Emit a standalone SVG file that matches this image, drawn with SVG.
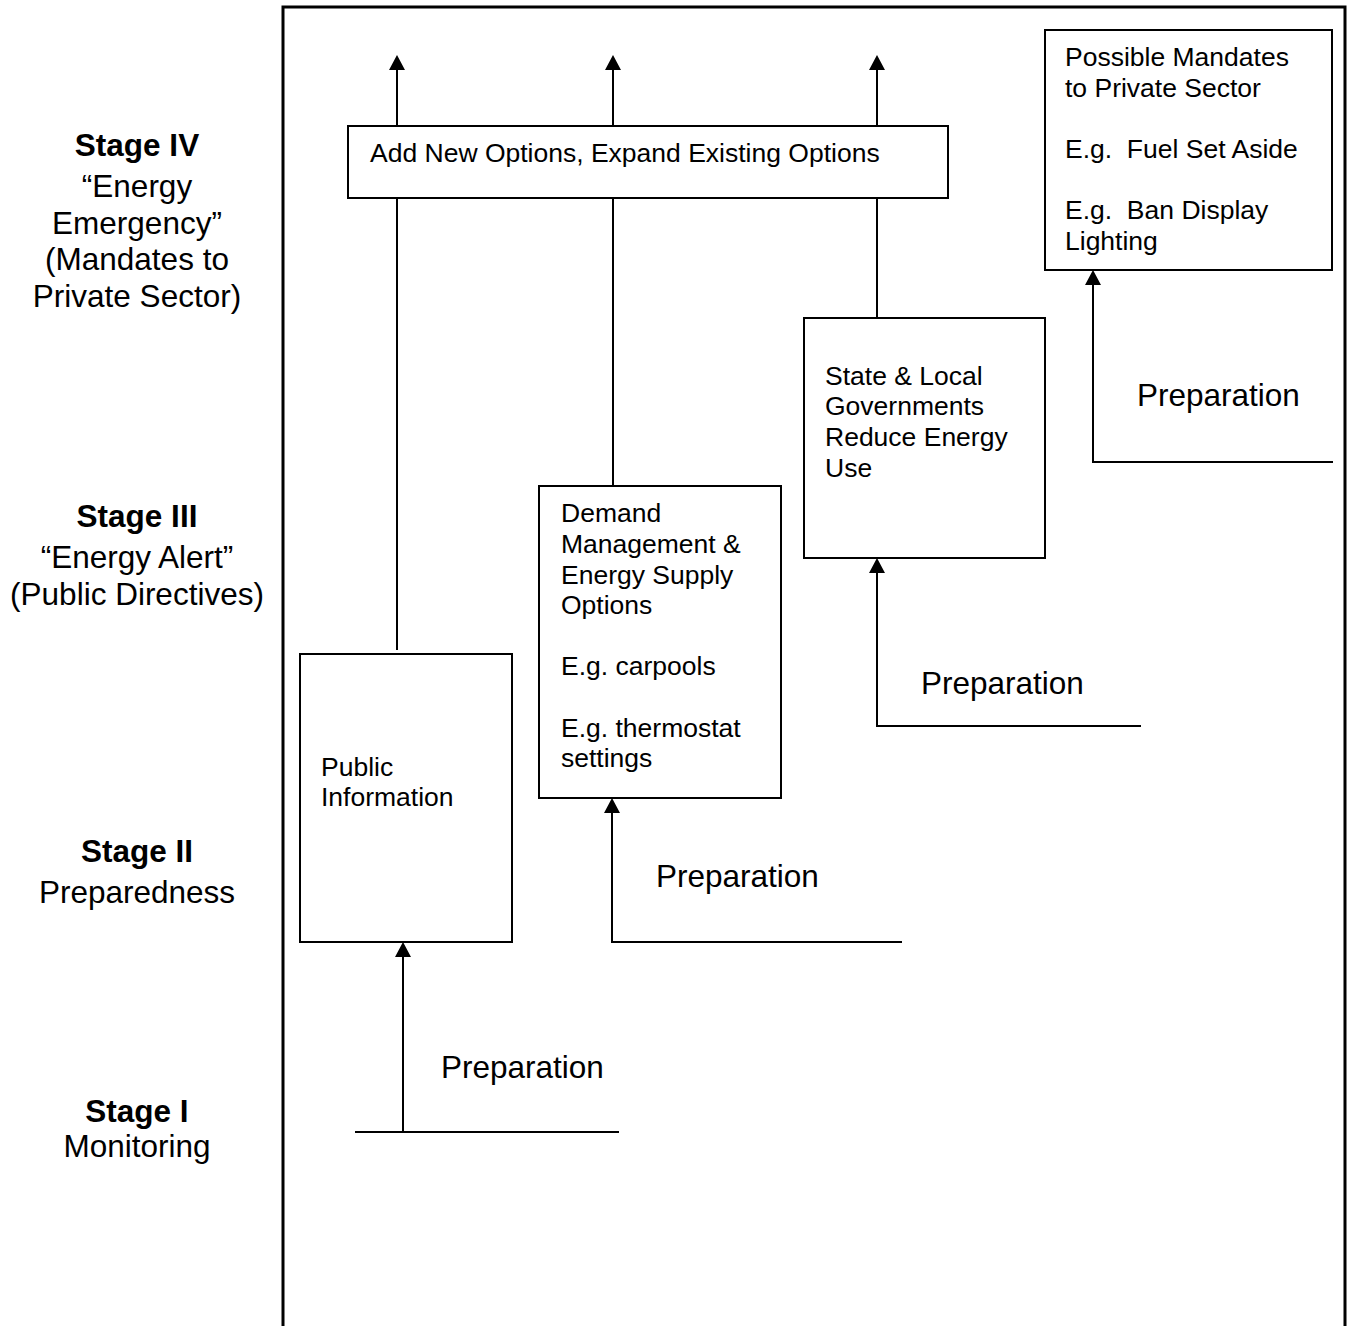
<svg xmlns="http://www.w3.org/2000/svg" width="1351" height="1326" viewBox="0 0 1351 1326">
  <defs>
    <marker id="arrow" markerUnits="userSpaceOnUse" markerWidth="15" markerHeight="16" refX="0" refY="8" orient="auto" viewBox="0 0 15 16">
      <path d="M0,0 L15,8 L0,16 Z" fill="#000"/>
    </marker>
    <style>
      .box { fill: #fff; stroke: #000; stroke-width: 2; }
      .line { fill: none; stroke: #000; stroke-width: 2; }
      .arr { fill: none; stroke: #000; stroke-width: 2; marker-end: url(#arrow); }
      .frame { fill: none; stroke: #000; stroke-width: 3; }
      .t { font-family: "Liberation Sans", Arial, sans-serif; font-size: 26.5px; fill: #000; white-space: pre; }
      .prep { font-family: "Liberation Sans", Arial, sans-serif; font-size: 31.5px; fill: #000; }
      .stage { font-family: "Liberation Sans", Arial, sans-serif; font-size: 31.5px; fill: #000; text-anchor: middle; }
      .b { font-weight: bold; }
    </style>
  </defs>
  <rect x="0" y="0" width="1351" height="1326" fill="#fff"/>

  <!-- outer frame around the stage chart -->
  <path class="frame" d="M283,1326 V7 H1345 V1326"/>

  <!-- stage labels on the left -->
  <g id="stage4">
    <text class="stage b" x="137" y="156">Stage IV</text>
    <text class="stage" x="137" y="197">“Energy</text>
    <text class="stage" x="137" y="233.5">Emergency”</text>
    <text class="stage" x="137" y="270">(Mandates to</text>
    <text class="stage" x="137" y="306.5">Private Sector)</text>
  </g>
  <g id="stage3">
    <text class="stage b" x="137" y="527">Stage III</text>
    <text class="stage" x="137" y="568">“Energy Alert”</text>
    <text class="stage" x="137" y="605">(Public Directives)</text>
  </g>
  <g id="stage2">
    <text class="stage b" x="137" y="862">Stage II</text>
    <text class="stage" x="137" y="903">Preparedness</text>
  </g>
  <g id="stage1">
    <text class="stage b" x="137" y="1122">Stage I</text>
    <text class="stage" x="137" y="1157">Monitoring</text>
  </g>

  <!-- connectors -->
  <g id="connectors">
    <!-- upward arrows above the options box -->
    <line class="arr" x1="397" y1="126" x2="397" y2="70"/>
    <line class="arr" x1="613" y1="126" x2="613" y2="70"/>
    <line class="arr" x1="877" y1="126" x2="877" y2="70"/>
    <!-- links from boxes up to the options box -->
    <line class="line" x1="397" y1="198" x2="397" y2="650"/>
    <line class="line" x1="613" y1="198" x2="613" y2="486"/>
    <line class="line" x1="877" y1="198" x2="877" y2="318"/>
    <!-- preparation steps -->
    <path class="line" d="M355,1132 H619"/>
    <line class="arr" x1="403" y1="1132" x2="403" y2="957"/>
    <path class="line" d="M902,942 H612 V813"/>
    <line class="arr" x1="612" y1="820" x2="612" y2="813"/>
    <path class="line" d="M1141,726 H877 V573"/>
    <line class="arr" x1="877" y1="580" x2="877" y2="573"/>
    <path class="line" d="M1333,462 H1093 V285"/>
    <line class="arr" x1="1093" y1="292" x2="1093" y2="285"/>
  </g>

  <!-- preparation labels -->
  <text class="prep" x="441" y="1078">Preparation</text>
  <text class="prep" x="656" y="887">Preparation</text>
  <text class="prep" x="921" y="694">Preparation</text>
  <text class="prep" x="1137" y="406">Preparation</text>

  <g id="options">
    <rect class="box" x="348" y="126" width="600" height="72"/>
    <text class="t" x="370" y="162">Add New Options, Expand Existing Options</text>
  </g>

  <g id="public-info">
    <rect class="box" x="300" y="654" width="212" height="288"/>
    <text class="t" x="321" y="776">Public</text>
    <text class="t" x="321" y="806">Information</text>
  </g>

  <g id="demand">
    <rect class="box" x="539" y="486" width="242" height="312"/>
    <text class="t" x="561" y="522">Demand</text>
    <text class="t" x="561" y="553">Management &amp;</text>
    <text class="t" x="561" y="584">Energy Supply</text>
    <text class="t" x="561" y="614">Options</text>
    <text class="t" x="561" y="675">E.g. carpools</text>
    <text class="t" x="561" y="737">E.g. thermostat</text>
    <text class="t" x="561" y="767">settings</text>
  </g>

  <g id="state-local">
    <rect class="box" x="804" y="318" width="241" height="240"/>
    <text class="t" x="825" y="385">State &amp; Local</text>
    <text class="t" x="825" y="415">Governments</text>
    <text class="t" x="825" y="446">Reduce Energy</text>
    <text class="t" x="825" y="477">Use</text>
  </g>

  <g id="mandates">
    <rect class="box" x="1045" y="30" width="287" height="240"/>
    <text class="t" x="1065" y="66">Possible Mandates</text>
    <text class="t" x="1065" y="97">to Private Sector</text>
    <text class="t" x="1065" y="158">E.g.  Fuel Set Aside</text>
    <text class="t" x="1065" y="219">E.g.  Ban Display</text>
    <text class="t" x="1065" y="250">Lighting</text>
  </g>
</svg>
